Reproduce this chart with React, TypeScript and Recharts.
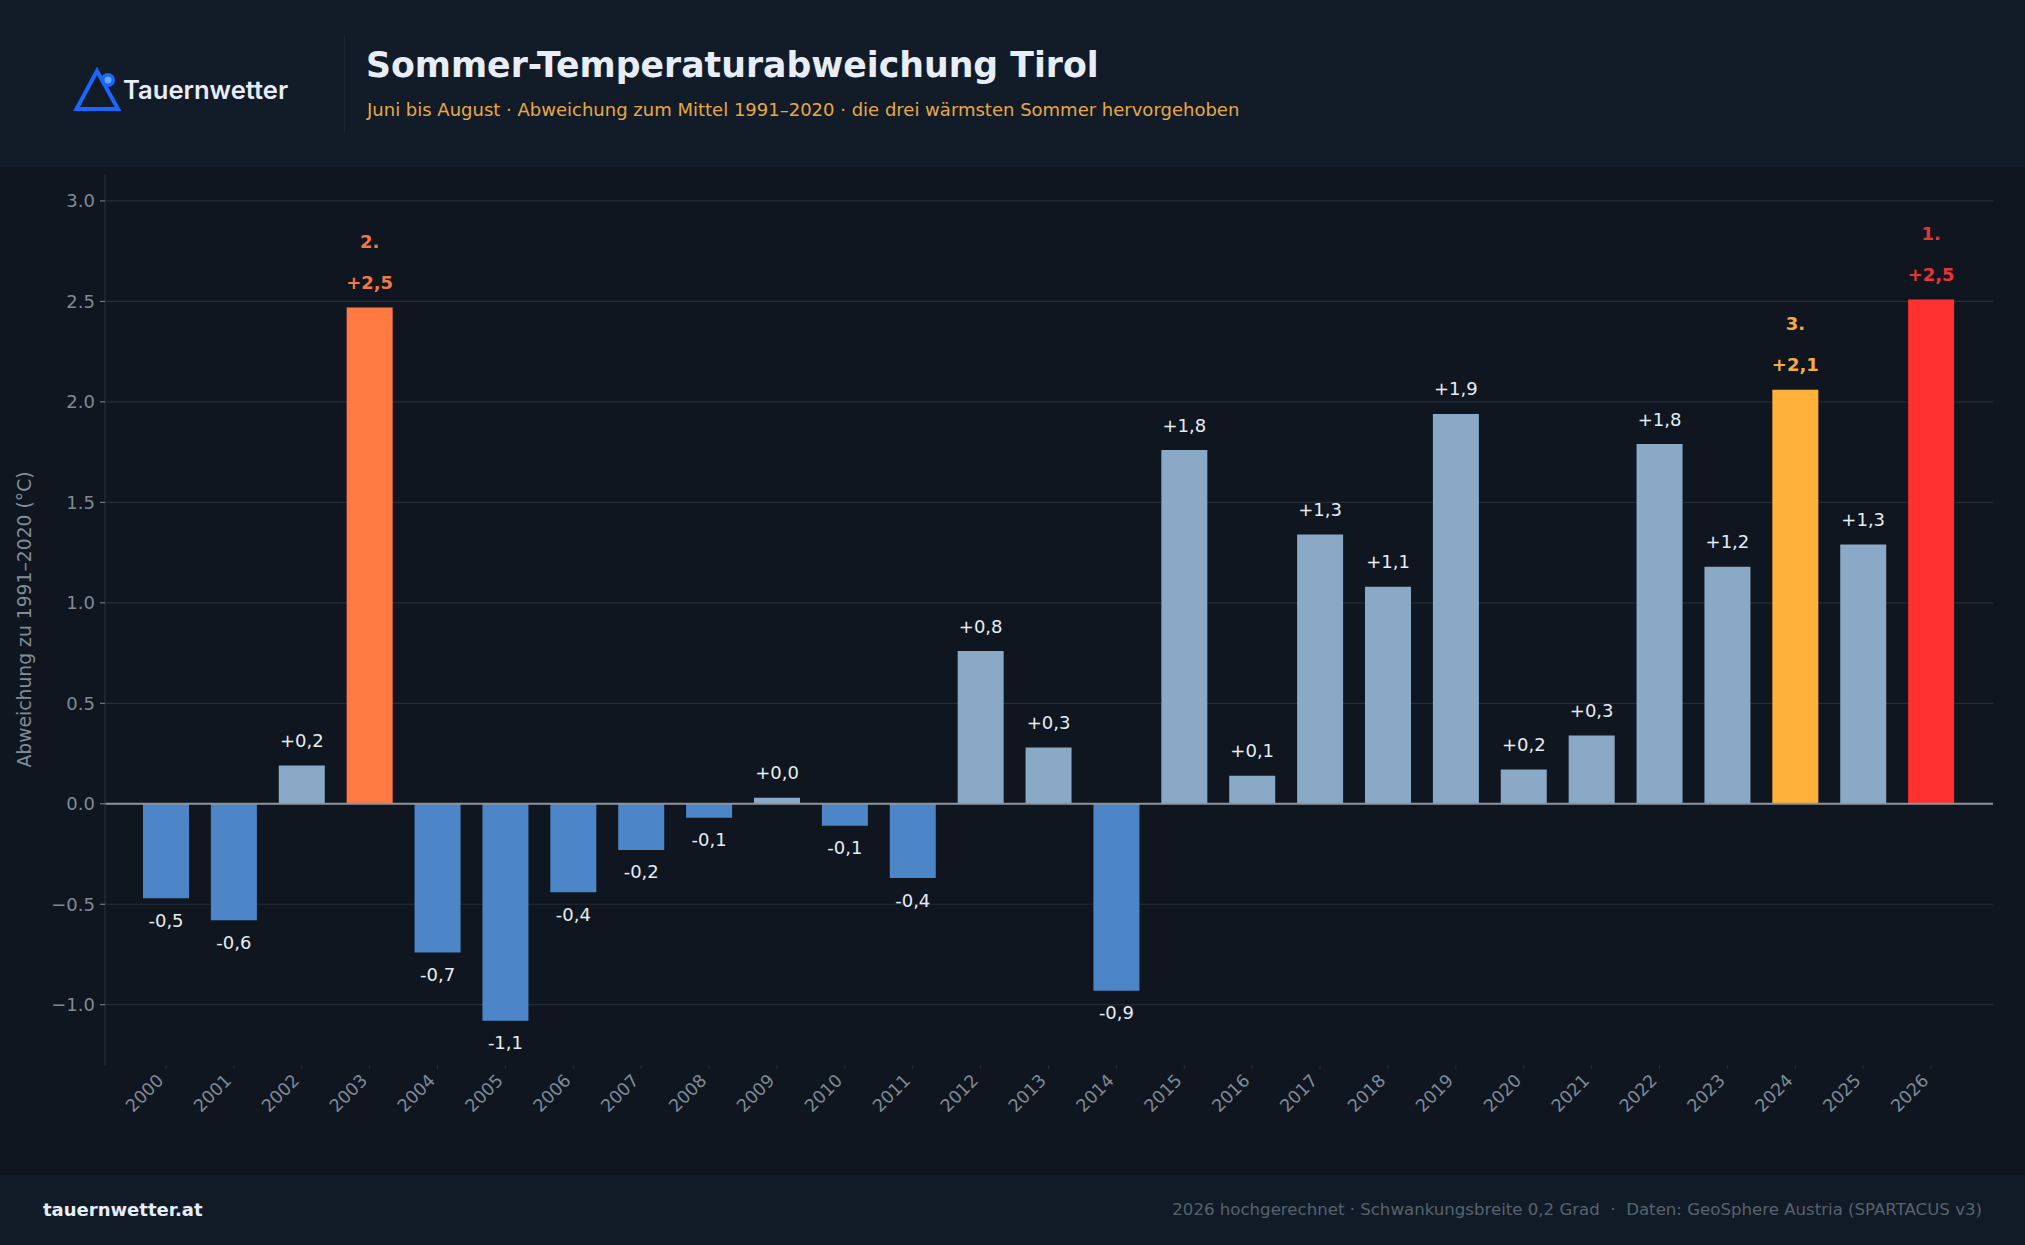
import { BarChart, Bar, XAxis, YAxis, CartesianGrid, Cell, LabelList, ReferenceLine } from "recharts"

const YEARS = [
  2000, 2001, 2002, 2003, 2004, 2005, 2006, 2007, 2008, 2009, 2010, 2011, 2012, 2013,
  2014, 2015, 2016, 2017, 2018, 2019, 2020, 2021, 2022, 2023, 2024, 2025, 2026,
]
const ANOMALIES = [
  -0.47, -0.58, 0.19, 2.47, -0.74, -1.08, -0.44, -0.23, -0.07, 0.03, -0.11, -0.37, 0.76, 0.28,
  -0.93, 1.76, 0.14, 1.34, 1.08, 1.94, 0.17, 0.34, 1.79, 1.18, 2.06, 1.29, 2.51,
]
const Y_TICKS = [-1, -0.5, 0, 0.5, 1, 1.5, 2, 2.5, 3]
const RANKS: Record<number, number> = { 2026: 1, 2003: 2, 2024: 3 }

const BAR_RANK: Record<number, string> = { 1: "#ff3030", 2: "#ff7a42", 3: "#ffb23a" }
const TEXT_RANK: Record<number, string> = { 1: "#e53535", 2: "#ee7a48", 3: "#f5ad3c" }
const FONT = "'DejaVu Sans', sans-serif"

const data = YEARS.map((year, i) => ({ year, value: ANOMALIES[i], rank: RANKS[year] }))

function formatValue(v: number) {
  return (v >= 0 ? "+" : "-") + Math.abs(v).toFixed(1).replace(".", ",")
}

function barColor(d: { value: number; rank?: number }) {
  if (d.rank) return BAR_RANK[d.rank]
  return d.value < 0 ? "#4d86c8" : "#8aa9c7"
}

function ValueLabel(props: any) {
  const { x, y, width, height, index } = props
  const d = data[index]
  const cx = x + width / 2
  const top = Math.min(y, y + height)
  const bottom = Math.max(y, y + height)
  const cy = d.value < 0 ? bottom + 22 : top - 25
  const fill = d.rank ? TEXT_RANK[d.rank] : "#e6edf3"
  return (
    <g fontFamily={FONT} fontSize={18} textAnchor="middle" fill={fill}>
      <text x={cx} y={cy} dy="0.36em" fontWeight={d.rank ? 700 : 400}>{formatValue(d.value)}</text>
      {d.rank ? <text x={cx} y={top - 66} dy="0.36em" fontWeight={700}>{d.rank}.</text> : null}
    </g>
  )
}

function YearTick({ x, y, payload }: any) {
  return (
    <g>
      <line x1={x} x2={x} y1={y - 8} y2={y - 4} stroke="#232c37" />
      <text
        x={x - 10}
        y={y}
        dy="0.7em"
        textAnchor="end"
        fontFamily={FONT}
        fontSize={17.5}
        fill="#7f8a96"
        transform={`rotate(-45 ${x - 10} ${y})`}
      >
        {payload.value}
      </text>
    </g>
  )
}

export default function App() {
  return (
    <div style={{ position: "absolute", left: 0, top: 0, width: 2025, height: 1245, overflow: "hidden", background: "#0f1620", fontFamily: FONT }}>
      <div style={{ position: "absolute", left: 0, top: 0, width: 2025, height: 167, background: "#121c28" }} />
      <div style={{ position: "absolute", left: 0, top: 1175, width: 2025, height: 70, background: "#111b27" }} />

      <svg width={130} height={140} style={{ position: "absolute", left: 0, top: 0 }}>
        <path d="M97 71 L118 109 L76.5 109 Z" fill="none" stroke="#1a66ff" strokeWidth={4} />
        <circle cx={108} cy={80} r={7} fill="#1a66ff" />
        <circle cx={108} cy={80} r={3.5} fill="#6aa5ff" />
      </svg>
      <div style={{ position: "absolute", left: 123, top: 75, fontFamily: "Inter", fontWeight: 600, fontSize: 25.6, lineHeight: "30px", color: "#e6edf8", whiteSpace: "nowrap" }}>
        Tauernwetter
      </div>
      <div style={{ position: "absolute", left: 344, top: 35, width: 1, height: 98, background: "#1c2733" }} />
      <div style={{ position: "absolute", left: 366, top: 44, fontWeight: 700, fontSize: 34.7, lineHeight: "42px", color: "#e8eef7", whiteSpace: "nowrap" }}>
        Sommer-Temperaturabweichung Tirol
      </div>
      <div style={{ position: "absolute", left: 367, top: 98, fontSize: 18, lineHeight: "24px", color: "#e8a846", whiteSpace: "nowrap" }}>
        Juni bis August · Abweichung zum Mittel 1991–2020 · die drei wärmsten Sommer hervorgehoben
      </div>

      <div style={{ position: "absolute", left: 0, top: 0 }}>
        <BarChart width={2025} height={1245} data={data} margin={{ top: 174, right: 32, bottom: 0, left: 0 }}>
          <CartesianGrid horizontal vertical={false} syncWithTicks stroke="#232c37" strokeWidth={1.2} />
          <XAxis
            dataKey="year"
            height={180}
            interval={0}
            axisLine={false}
            tickLine={false}
            padding={{ left: 27, right: 28 }}
            tick={<YearTick />}
          />
          <YAxis
            type="number"
            width={105}
            domain={[-1.3, 3.134]}
            ticks={Y_TICKS}
            allowDataOverflow
            axisLine={{ stroke: "#2a3340" }}
            tickLine={{ stroke: "#7f8a96" }}
            tickSize={5}
            tickMargin={5}
            tick={{ fontFamily: FONT, fontSize: 18, fill: "#7f8a96" }}
            tickFormatter={(v: number) => v.toFixed(1).replace("-", "−")}
            label={{
              value: "Abweichung zu 1991–2020 (°C)",
              angle: -90,
              position: "insideLeft",
              offset: 0,
              dx: 24,
              style: { fontFamily: FONT, fontSize: 18.75, fill: "#828c98", textAnchor: "middle" },
            }}
          />
          <Bar dataKey="value" barSize={46} isAnimationActive={false}>
            {data.map((d) => (
              <Cell key={d.year} fill={barColor(d)} />
            ))}
            <LabelList dataKey="value" content={<ValueLabel />} />
          </Bar>
          <ReferenceLine y={0} stroke="#8f949c" strokeWidth={2} />
        </BarChart>
      </div>

      <div style={{ position: "absolute", left: 43, top: 1198, fontWeight: 700, fontSize: 18, lineHeight: "24px", color: "#e6edf8", whiteSpace: "nowrap" }}>
        tauernwetter.at
      </div>
      <div style={{ position: "absolute", right: 43, top: 1198, fontSize: 16.6, lineHeight: "24px", color: "#58626e", whiteSpace: "pre" }}>
        2026 hochgerechnet · Schwankungsbreite 0,2 Grad  ·  Daten: GeoSphere Austria (SPARTACUS v3)
      </div>
    </div>
  )
}
